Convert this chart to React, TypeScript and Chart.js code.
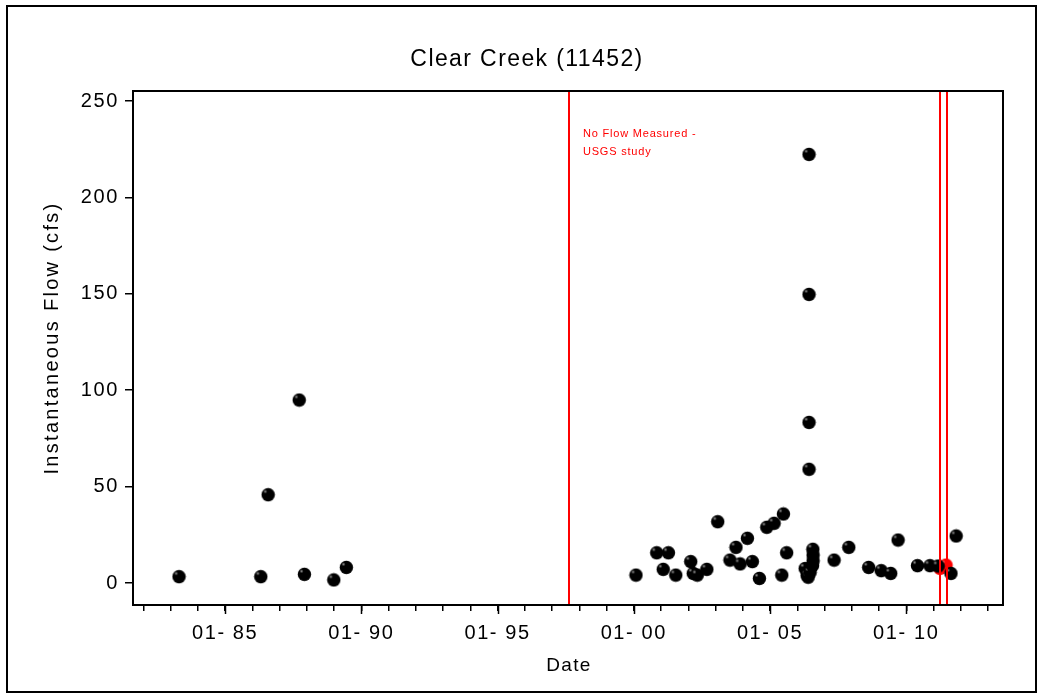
import React, { useEffect, useRef } from "react";
import { Chart, registerables } from "chart.js";

Chart.register(...registerables);

// ---- data (decimal years, cfs) ----
const flowYears = [
  1983.31, 1986.31, 1986.58, 1987.72, 1987.91, 1988.99, 1989.45,
  2000.08, 2000.84, 2001.08, 2001.27, 2001.54, 2002.09, 2002.18, 2002.33, 2002.68,
  2003.08, 2003.53, 2003.75, 2003.90, 2004.17, 2004.35, 2004.61, 2004.88, 2005.15,
  2005.43, 2005.49, 2005.61, 2006.29, 2006.36, 2006.40, 2006.47, 2006.56, 2006.58,
  2006.58, 2006.57, 2006.43, 2006.43, 2006.43, 2006.43, 2007.35, 2007.89, 2008.62,
  2009.08, 2009.43, 2009.70, 2010.41, 2010.87, 2011.17, 2011.64, 2011.83,
];
const flowValues = [
  3.3, 3.3, 45.8, 94.9, 4.5, 1.6, 8.1,
  4.1, 15.7, 7.1, 15.7, 4.1, 11.1, 5.0, 4.1, 7.1,
  31.8, 11.9, 18.5, 9.9, 23.2, 11.1, 2.4, 28.9, 31.0,
  4.1, 35.8, 15.7, 7.5, 4.0, 3.0, 5.5, 9.0, 11.5,
  14.5, 17.5, 222.3, 149.7, 83.3, 59.0, 11.9, 18.5, 8.1,
  6.4, 5.0, 22.3, 9.0, 9.0, 8.8, 5.0, 24.4,
];
const noFlowYears = [2011.24, 2011.46];
const noFlowValues = [7.6, 9.3];
const refLineYears = [1997.62, 2011.24, 2011.51];
const majorTickYears = [1985, 1990, 1995, 2000, 2005, 2010];
const yTickStep = 50;
const titleText = "Clear Creek (11452)";
const xTitleText = "Date";
const yTitleText = "Instantaneous Flow (cfs)";
const noteLines = ["No Flow Measured -", "USGS study"];

const FONT = '"Liberation Sans", Arial, sans-serif';

function makeBall(color: string): HTMLCanvasElement {
  const c = document.createElement("canvas");
  c.width = 15;
  c.height = 15;
  const g = c.getContext("2d")!;
  g.beginPath();
  g.arc(7.5, 7.5, 6.7, 0, Math.PI * 2);
  g.fillStyle = color;
  g.fill();
  const grad = g.createRadialGradient(4.6, 4.3, 0, 4.6, 4.3, 2.0);
  grad.addColorStop(0, "rgba(255,255,255,0.6)");
  grad.addColorStop(1, "rgba(255,255,255,0)");
  g.fillStyle = grad;
  g.beginPath();
  g.arc(7.5, 7.5, 6.7, 0, Math.PI * 2);
  g.fill();
  return c;
}

const decorPlugin = {
  id: "decor",
  beforeDraw(chart: any) {
    const ctx = chart.ctx;
    ctx.save();
    ctx.fillStyle = "#ffffff";
    ctx.fillRect(0, 0, chart.width, chart.height);
    ctx.strokeStyle = "#000";
    ctx.lineWidth = 2;
    ctx.strokeRect(7, 6, 1029, 686);
    ctx.restore();
    (ctx as any).letterSpacing = "1.6px";
  },
  afterDatasetsDraw(chart: any) {
    const ctx = chart.ctx;
    const { top, bottom } = chart.chartArea;
    const xs = chart.scales.x;
    ctx.save();
    ctx.strokeStyle = "#ff0000";
    ctx.lineWidth = 2;
    refLineYears.forEach((yr) => {
      const px = Math.round(xs.getPixelForValue(yr));
      ctx.beginPath();
      ctx.moveTo(px, top);
      ctx.lineTo(px, bottom);
      ctx.stroke();
    });
    ctx.restore();
  },
  afterDraw(chart: any) {
    const ctx = chart.ctx;
    const { left, right, top, bottom } = chart.chartArea;
    const xs = chart.scales.x;
    ctx.save();
    // plot frame
    ctx.strokeStyle = "#000";
    ctx.lineWidth = 2;
    ctx.strokeRect(left, top, right - left, bottom - top);
    // major tick extensions
    ctx.lineWidth = 1.5;
    majorTickYears.forEach((yr) => {
      const px = Math.round(xs.getPixelForValue(yr)) + 0.5;
      ctx.beginPath();
      ctx.moveTo(px, bottom);
      ctx.lineTo(px, bottom + 9);
      ctx.stroke();
    });
    ctx.fillStyle = "#000";
    ctx.textBaseline = "alphabetic";
    // title
    ctx.font = `23px ${FONT}`;
    ctx.textAlign = "center";
    (ctx as any).letterSpacing = "1.4px";
    ctx.fillText(titleText, 527, 66);
    // x title
    ctx.font = `19px ${FONT}`;
    (ctx as any).letterSpacing = "1.3px";
    ctx.fillText(xTitleText, (left + right) / 2 + 1, 671);
    // y title
    ctx.save();
    ctx.translate(58, 338);
    ctx.rotate(-Math.PI / 2);
    ctx.font = `20px ${FONT}`;
    (ctx as any).letterSpacing = "2.3px";
    ctx.fillText(yTitleText, 0, 0);
    ctx.restore();
    // note
    ctx.fillStyle = "#ff0000";
    ctx.font = `11px ${FONT}`;
    ctx.textAlign = "left";
    (ctx as any).letterSpacing = "0.8px";
    const noteX = xs.getPixelForValue(refLineYears[0]) + 14;
    ctx.fillText(noteLines[0], noteX, 137);
    ctx.fillText(noteLines[1], noteX, 155);
    ctx.restore();
    (ctx as any).letterSpacing = "0px";
  },
};

export default function App() {
  const ref = useRef<HTMLCanvasElement | null>(null);
  useEffect(() => {
    if (!ref.current) return;
    const black = makeBall("#000000");
    const red = makeBall("#ff0000");
    const chart = new Chart(ref.current, {
      type: "scatter",
      data: {
        datasets: [
          {
            label: "Flow",
            data: flowYears.map((x, i) => ({ x, y: flowValues[i] })),
            pointStyle: black as any,
            pointRadius: 7,
            backgroundColor: "#000",
            borderColor: "#000",
          },
          {
            label: "No flow",
            data: noFlowYears.map((x, i) => ({ x, y: noFlowValues[i] })),
            pointStyle: red as any,
            pointRadius: 7,
            backgroundColor: "#f00",
            borderColor: "#f00",
          },
        ],
      },
      options: {
        responsive: false,
        animation: false,
        devicePixelRatio: 1,
        layout: { padding: { left: 0, top: 91, right: 40, bottom: 43 } },
        plugins: {
          legend: { display: false },
          tooltip: { enabled: false },
          title: { display: false },
        },
        scales: {
          x: {
            type: "linear",
            min: 1981.62,
            max: 2013.55,
            afterFit: (s: any) => {
              s.height = 50;
            },
            border: { display: false },
            grid: {
              drawOnChartArea: false,
              drawTicks: true,
              tickLength: 6,
              color: "#000",
              lineWidth: 1.5,
            },
            ticks: {
              stepSize: 1,
              includeBounds: false,
              autoSkip: false,
              maxRotation: 0,
              padding: 10,
              color: "#000",
              font: { family: FONT, size: 20 },
              callback: (v: any) => {
                const n = Math.round(Number(v));
                if (n % 5 !== 0) return "";
                return `01- ${String(n % 100).padStart(2, "0")}`;
              },
            },
          },
          y: {
            type: "linear",
            min: -11.4,
            max: 255.2,
            afterFit: (s: any) => {
              s.width = 133;
            },
            border: { display: false },
            grid: {
              drawOnChartArea: false,
              drawTicks: true,
              tickLength: 8,
              color: "#000",
              lineWidth: 1.5,
            },
            ticks: {
              stepSize: yTickStep,
              includeBounds: false,
              padding: 6,
              color: "#000",
              font: { family: FONT, size: 20 },
            },
          },
        },
      },
      plugins: [decorPlugin],
    });
    return () => chart.destroy();
  }, []);
  return (
    <div style={{ position: "absolute", left: 0, top: 0, width: 1043, height: 698 }}>
      <canvas ref={ref} width={1043} height={698} style={{ display: "block" }} />
    </div>
  );
}
